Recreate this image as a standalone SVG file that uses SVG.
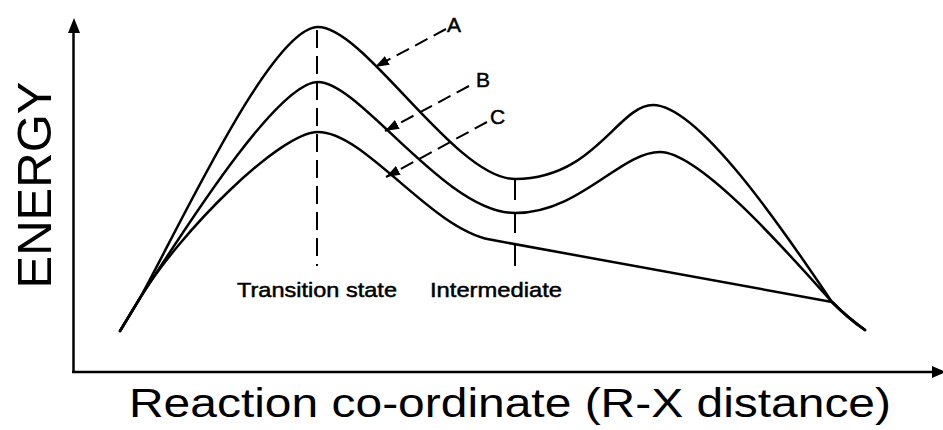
<svg xmlns="http://www.w3.org/2000/svg" width="943" height="430" viewBox="0 0 943 430">
<style>
.curve{fill:none;stroke:#000;stroke-width:2.5;stroke-linejoin:round;stroke-linecap:round}
.axis{fill:none;stroke:#000;stroke-width:2.5}
.dash{fill:none;stroke:#000;stroke-width:2}
.lbl{font-family:"Liberation Sans",Arial,sans-serif;fill:#000}
.sm{stroke:#000;stroke-width:0.5}
</style>
<defs>
<marker id="ah" markerWidth="15" markerHeight="10" refX="14" refY="5" orient="auto" markerUnits="userSpaceOnUse">
<path d="M0,0 L14,5 L0,10 Z" fill="#000"/>
</marker>
</defs>
<rect width="943" height="430" fill="#fff"/>
<g id="axes">
<line class="axis" x1="73.5" y1="373" x2="73.5" y2="30"/>
<path d="M74,18 L80,33 L68,33 Z" fill="#000"/>
<line class="axis" x1="72" y1="372" x2="934" y2="372"/>
<path d="M946,372 L932,366 L932,378 Z" fill="#000"/>
</g>
<g id="curve-A">
<path class="curve" d="M120,331 L140,298 C182,222 272,27 318,27 C365,27 455,179 515,179 C595,179 618,105 653,105 C700,105 790,240 832,302 C845,315 855,323 865,330"/>
</g>
<g id="curve-B">
<path class="curve" d="M120,331 L140,298 C178,240 276,82 318,82 C360,82 445,213 515,213 C580,213 620,152 660,152 C700,152 790,255 832,302 C845,315 855,323 865,330"/>
</g>
<g id="curve-C">
<path class="curve" d="M120,331 L140,298 C180,232 280,132 318,132 C365,132 430,228 490,239.6 L832,302 C845,315 855,323 865,330"/>
</g>
<g id="transition-state">
<line class="dash" x1="317" y1="30" x2="317" y2="266" stroke-dasharray="18,8"/>
<text class="lbl sm" x="237" y="297" font-size="21" textLength="160" lengthAdjust="spacingAndGlyphs">Transition state</text>
</g>
<g id="intermediate">
<line class="dash" x1="515" y1="179" x2="515" y2="266" stroke-dasharray="21,12"/>
<text class="lbl sm" x="430" y="297" font-size="21" textLength="132" lengthAdjust="spacingAndGlyphs">Intermediate</text>
</g>
<g id="connectors">
<line class="dash" x1="446" y1="29" x2="375" y2="67" stroke-dasharray="14,7" marker-end="url(#ah)"/>
<line class="dash" x1="469" y1="86" x2="385" y2="131" stroke-dasharray="14,7" marker-end="url(#ah)"/>
<line class="dash" x1="487" y1="122" x2="386" y2="177" stroke-dasharray="14,7" marker-end="url(#ah)"/>
</g>
<g id="label-A"><text class="lbl sm" x="447" y="32" font-size="21">A</text></g>
<g id="label-B"><text class="lbl sm" x="476" y="87" font-size="21">B</text></g>
<g id="label-C"><text class="lbl sm" x="490" y="124" font-size="21">C</text></g>
<g id="y-label"><text class="lbl" transform="translate(51,185) rotate(-90)" text-anchor="middle" font-size="49">ENERGY</text></g>
<g id="x-label"><text class="lbl" x="129" y="417" font-size="40" textLength="762" lengthAdjust="spacingAndGlyphs">Reaction co-ordinate (R-X distance)</text></g>
</svg>
